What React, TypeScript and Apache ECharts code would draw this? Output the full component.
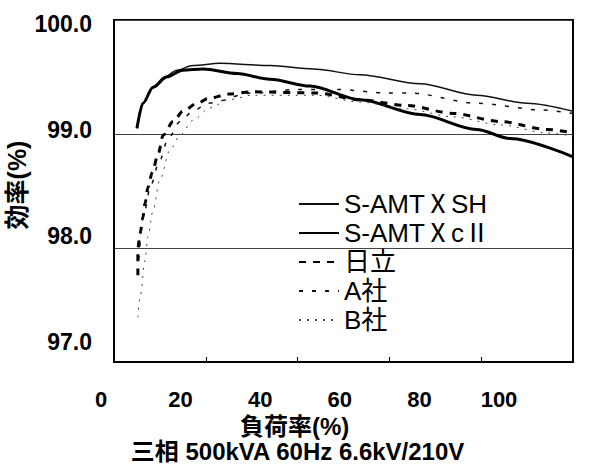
import React, { useEffect, useRef } from "react";
import * as echarts from "echarts";

// Load factor (%) / efficiency (%) pairs
const samtSH: [number, number][] = [
  [5, 99.05], [6.3, 99.27], [8.5, 99.41], [11, 99.5], [13.7, 99.56], [17.2, 99.6],
  [23, 99.62], [34, 99.6], [43.4, 99.57], [53.6, 99.52], [66.7, 99.44], [79, 99.34],
  [90, 99.27], [100, 99.2],
];
const samtC2: [number, number][] = [
  [5, 99.05], [6.3, 99.27], [8.5, 99.41], [11.5, 99.5], [15, 99.56], [19.4, 99.57],
  [26.8, 99.53], [34, 99.48], [42.7, 99.42], [53.6, 99.3], [66.7, 99.17], [79, 99.04],
  [86.3, 98.96], [100, 98.8],
];
const hitachi: [number, number][] = [
  [5.2, 97.76], [5.2, 98.0], [5.7, 98.13], [6.3, 98.27], [6.75, 98.39], [7.4, 98.53],
  [8.3, 98.66], [9.6, 98.82], [10.7, 98.99], [12.9, 99.11], [15, 99.2], [18.1, 99.27],
  [20.5, 99.31], [25, 99.35], [30, 99.37], [44, 99.36], [53.6, 99.3], [63.8, 99.25],
  [73.9, 99.18], [84.1, 99.11], [94.3, 99.04], [100, 99.01],
];
const companyA: [number, number][] = [
  [5.4, 97.9], [6.5, 98.3], [8, 98.55], [9.8, 98.75], [11.8, 98.96], [14.4, 99.11],
  [17.2, 99.2], [20.5, 99.27], [30, 99.36], [40, 99.39], [49, 99.39], [59.5, 99.36],
  [64.5, 99.36], [79, 99.27], [93.5, 99.21], [100, 99.18],
];
const companyB: [number, number][] = [
  [5.2, 97.39], [5.7, 97.57], [6.75, 97.89], [7.4, 98.1], [8.5, 98.33], [10, 98.6],
  [12.2, 98.86], [14.4, 98.99], [17.2, 99.12], [20.9, 99.23], [25, 99.3], [30, 99.34],
  [44, 99.34], [53.6, 99.28], [63.8, 99.22], [73.9, 99.15], [84.1, 99.08], [94.3, 99.01],
  [100, 98.98],
];

const seriesNames = ["S-AMTⅩSH", "S-AMTⅩcⅡ", "日立", "A社", "B社"];
const xTicks = [0, 20, 40, 60, 80, 100];
const yTicks = [97, 98, 99, 100];

const xAxisTitle = "負荷率(%)";
const yAxisTitle = "効率(%)";
const subTitle = "三相 500kVA 60Hz 6.6kV/210V";

const latin = "'Liberation Sans', Arial, 'Noto Sans CJK JP', sans-serif";
const cjk = "'Liberation Sans', 'Noto Sans CJK JP', sans-serif";

export default function App() {
  const ref = useRef<HTMLDivElement>(null);
  useEffect(() => {
    if (!ref.current) return;
    const chart = echarts.init(ref.current, undefined, { renderer: "svg" });
    const mk = (name: string, data: [number, number][], lineStyle: any) => ({
      name,
      type: "line",
      xAxisIndex: 0,
      yAxisIndex: 0,
      data,
      showSymbol: false,
      symbol: "none",
      smooth: 0.3,
      smoothMonotone: "x",
      lineStyle,
      itemStyle: { color: lineStyle.color },
    });
    chart.setOption({
      animation: false,
      backgroundColor: "#fff",
      grid: [
        { left: 114, right: 23, top: 20, bottom: 106, show: true, borderColor: "#000", borderWidth: 2, backgroundColor: "transparent" },
        { left: 101, right: 97, top: 23.5, bottom: 126, show: false },
      ],
      xAxis: [
        {
          type: "value", gridIndex: 0, min: xTicks[0], max: xTicks[xTicks.length - 1], interval: 20,
          axisLine: { show: true, lineStyle: { color: "#000", width: 2 } },
          axisTick: { show: true, inside: true, length: 5, lineStyle: { color: "#000", width: 1 } },
          axisLabel: { show: false },
          splitLine: { show: false },
        },
        {
          type: "value", gridIndex: 1, min: xTicks[0], max: xTicks[xTicks.length - 1], interval: 20,
          axisLine: { show: false }, axisTick: { show: false }, splitLine: { show: false },
          axisLabel: { show: true, margin: 46, color: "#000", fontSize: 22, fontWeight: "bold", fontFamily: latin },
        },
      ],
      yAxis: [
        {
          type: "value", gridIndex: 0, min: yTicks[0], max: yTicks[yTicks.length - 1], interval: 1,
          axisLine: { show: true, lineStyle: { color: "#000", width: 2 } },
          axisTick: { show: false },
          axisLabel: { show: false },
          splitLine: { show: true, lineStyle: { color: "#444", width: 1 } },
        },
        {
          type: "value", gridIndex: 1, min: yTicks[0], max: yTicks[yTicks.length - 1], interval: 1,
          axisLine: { show: false }, axisTick: { show: false }, splitLine: { show: false },
          axisLabel: { show: true, margin: 9, color: "#000", fontSize: 23, fontWeight: "bold", fontFamily: latin, formatter: (v: number) => v.toFixed(1) },
        },
      ],
      legend: {
        orient: "vertical",
        left: 293,
        top: 186,
        itemWidth: 40,
        itemHeight: 2,
        itemGap: 3,
        itemStyle: { opacity: 0 },
        data: seriesNames,
        textStyle: { color: "#000", fontSize: 26, fontFamily: cjk, lineHeight: 24 },
      },
      series: [
        mk(seriesNames[0], samtSH, { color: "#111", width: 1.5, type: "solid" }),
        mk(seriesNames[1], samtC2, { color: "#000", width: 3, type: "solid" }),
        mk(seriesNames[2], hitachi, { color: "#000", width: 3, type: [7, 7] }),
        mk(seriesNames[3], companyA, { color: "#111", width: 1.5, type: [4, 9] }),
        mk(seriesNames[4], companyB, { color: "#444", width: 1, type: [2, 6] }),
      ],
      graphic: [
        { type: "text", left: 240, top: 414, style: { text: xAxisTitle, font: `bold 24px ${cjk}`, fill: "#000" } },
        { type: "text", left: "center", top: 439, style: { text: subTitle, font: `bold 24px ${cjk}`, fill: "#000" } },
        { type: "text", x: 17, y: 185, rotation: Math.PI / 2, style: { text: yAxisTitle, font: `bold 25px ${cjk}`, fill: "#000", align: "center", verticalAlign: "middle" } },
      ],
    });
    return () => chart.dispose();
  }, []);
  return <div ref={ref} style={{ width: 596, height: 468, position: "absolute", left: 0, top: 0 }} />;
}
